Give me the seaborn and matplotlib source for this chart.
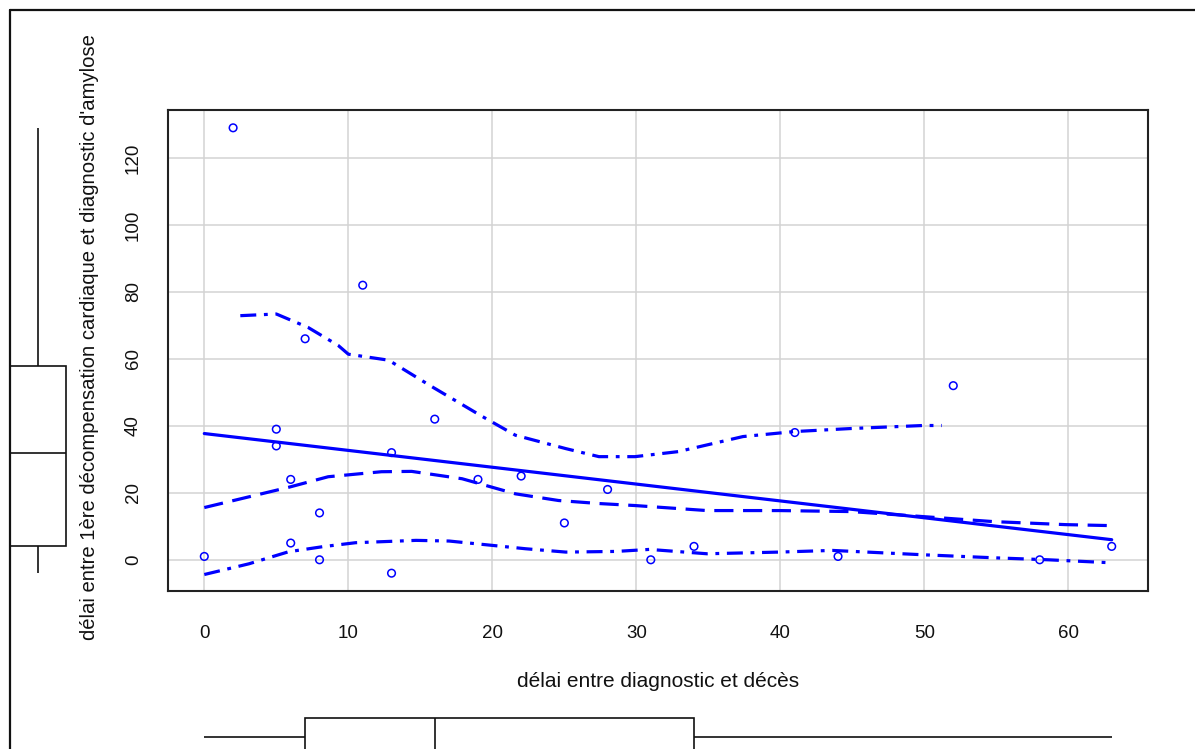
import matplotlib
matplotlib.use("Agg")
import matplotlib.pyplot as plt
from matplotlib.lines import Line2D
import numpy as np
import pandas as pd
import seaborn as sns

# Observations: delay diagnosis -> death (x) vs delay 1st cardiac decompensation -> diagnosis (y)
delai_diag_deces = [0, 2, 5, 5, 6, 6, 7, 8, 8, 11, 13, 13, 16, 19, 22, 25, 28, 31, 34, 41, 44, 52, 58, 63]
delai_decomp_diag = [1, 129, 39, 34, 24, 5, 66, 14, 0, 82, 32, -4, 42, 24, 25, 11, 21, 0, 4, 38, 1, 52, 0, 4]

# Least-squares line
droite_x = [0, 63]
droite_y = [37.7, 6.0]

# Nonparametric smoother and its spread bands
lissage_x = [0, 3, 5.9, 8.6, 12.3, 14.4, 17.9, 21.6, 24.6, 27.4, 29.9, 34.9, 39.9, 44.9, 49.9, 54.8, 59.8, 63]
lissage_y = [15.6, 18.7, 21.7, 24.8, 26.3, 26.4, 24.2, 19.7, 17.7, 16.8, 16.2, 14.7, 14.7, 14.4, 12.9, 11.4, 10.5, 10.2]
bande_sup_x = [2.5, 5.0, 7.2, 9.3, 10.0, 12.8, 15.8, 19.3, 21.6, 25.1, 27.4, 29.9, 32.9, 37.4, 41.0, 44.9, 49.9, 51.2]
bande_sup_y = [72.9, 73.4, 69.4, 64.0, 61.4, 59.6, 51.7, 42.8, 37.2, 33.2, 30.8, 30.8, 32.3, 36.8, 38.3, 39.2, 40.1, 40.1]
bande_inf_x = [0, 3.1, 5.85, 8.2, 10.5, 14.7, 17.0, 20.0, 22.3, 25.1, 28.6, 30.9, 34.9, 39.9, 43.6, 49.9, 54.8, 58.6, 63]
bande_inf_y = [-4.4, -1.2, 2.4, 3.9, 5.1, 5.8, 5.6, 4.3, 3.3, 2.3, 2.5, 3.1, 1.8, 2.3, 2.8, 1.5, 0.6, 0.0, -0.9]

# Marginal box plots (min, Q1, median, Q3, max)
boite_x = [0, 7, 16, 34, 63]
boite_y = [-4, 4, 32, 58, 129]

x_ticks = [0, 10, 20, 30, 40, 50, 60]
y_ticks = [0, 20, 40, 60, 80, 100, 120]
x_label = "délai entre diagnostic et décès"
y_label = "délai entre 1ère décompensation cardiaque et diagnostic d'amylose"

sns.set_style("white")
plt.rcParams["font.family"] = ["Liberation Sans", "DejaVu Sans"]

W, H = 1195, 749
fig = plt.figure(figsize=(W / 100, H / 100), dpi=100)


def box_px(left, top, right, bottom):
    return [left / W, 1 - bottom / H, (right - left) / W, (bottom - top) / H]


xlim = (-2.52, 65.52)
ylim = (-9.32, 134.32)

ax = fig.add_axes(box_px(168, 110, 1148, 591))
ax.set_xlim(*xlim)
ax.set_ylim(*ylim)
ax.set_xticks(x_ticks)
ax.set_yticks(y_ticks)
ax.grid(True, color="#d3d3d3", lw=1.1, zorder=0)
ax.set_axisbelow(True)

blue = "#0000ff"
sns.scatterplot(x=delai_diag_deces, y=delai_decomp_diag, ax=ax, marker="o", s=30,
                facecolor="none", edgecolor=blue, linewidth=1.1, zorder=4)
sns.lineplot(x=droite_x, y=droite_y, ax=ax, color=blue, lw=2.3, estimator=None, zorder=3)
sns.lineplot(x=lissage_x, y=lissage_y, ax=ax, color=blue, lw=2.3, estimator=None,
             linestyle=(0, (6.0, 3.0)), zorder=3)
for bx, by in ((bande_sup_x, bande_sup_y), (bande_inf_x, bande_inf_y)):
    sns.lineplot(x=bx, y=by, ax=ax, color=blue, lw=2.3, estimator=None,
                 linestyle=(0, (5.0, 2.4, 1.2, 2.4)), zorder=3)

for s in ax.spines.values():
    s.set_color("#222222")
    s.set_linewidth(1.5)
ax.tick_params(axis="both", length=9.2, width=1.4, color="#222222", labelsize=13.5,
               labelcolor="#111111", direction="out")
ax.tick_params(axis="x", pad=15.5)
ax.tick_params(axis="y", pad=9.5, labelrotation=90)
for lab in ax.get_yticklabels():
    lab.set_va("center")
ax.set_xlabel(x_label, fontsize=15, color="#111111")
ax.set_ylabel(y_label, fontsize=14.6, color="#111111")
ax.xaxis.set_label_coords(0.5, -0.168)
ax.yaxis.set_label_coords(-0.0704, 0.527)

# Left marginal box plot (y variable)
axl = fig.add_axes(box_px(8, 110, 68, 591))
sns.boxplot(y=boite_y, ax=axl, whis=(0, 100), width=0.917, color="white",
            linecolor="#111111", linewidth=1.2, fill=True, showcaps=False)
axl.set_ylim(*ylim)
axl.set_xlim(-0.5, 0.5)
axl.axis("off")

# Bottom marginal box plot (x variable)
axb = fig.add_axes(box_px(168, 716, 1148, 758))
sns.boxplot(x=boite_x, ax=axb, whis=(0, 100), width=0.905, color="white",
            linecolor="#111111", linewidth=1.2, fill=True, showcaps=False)
axb.set_xlim(*xlim)
axb.set_ylim(0.5, -0.5)
axb.axis("off")

# Outer frame
fig.add_artist(Line2D([9.5 / W, 9.5 / W], [0, 1 - 10 / H], transform=fig.transFigure,
                      color="#111111", lw=1.6))
fig.add_artist(Line2D([9.5 / W, 1], [1 - 10 / H, 1 - 10 / H], transform=fig.transFigure,
                      color="#111111", lw=1.6))

fig.savefig("out.png", dpi=100)
